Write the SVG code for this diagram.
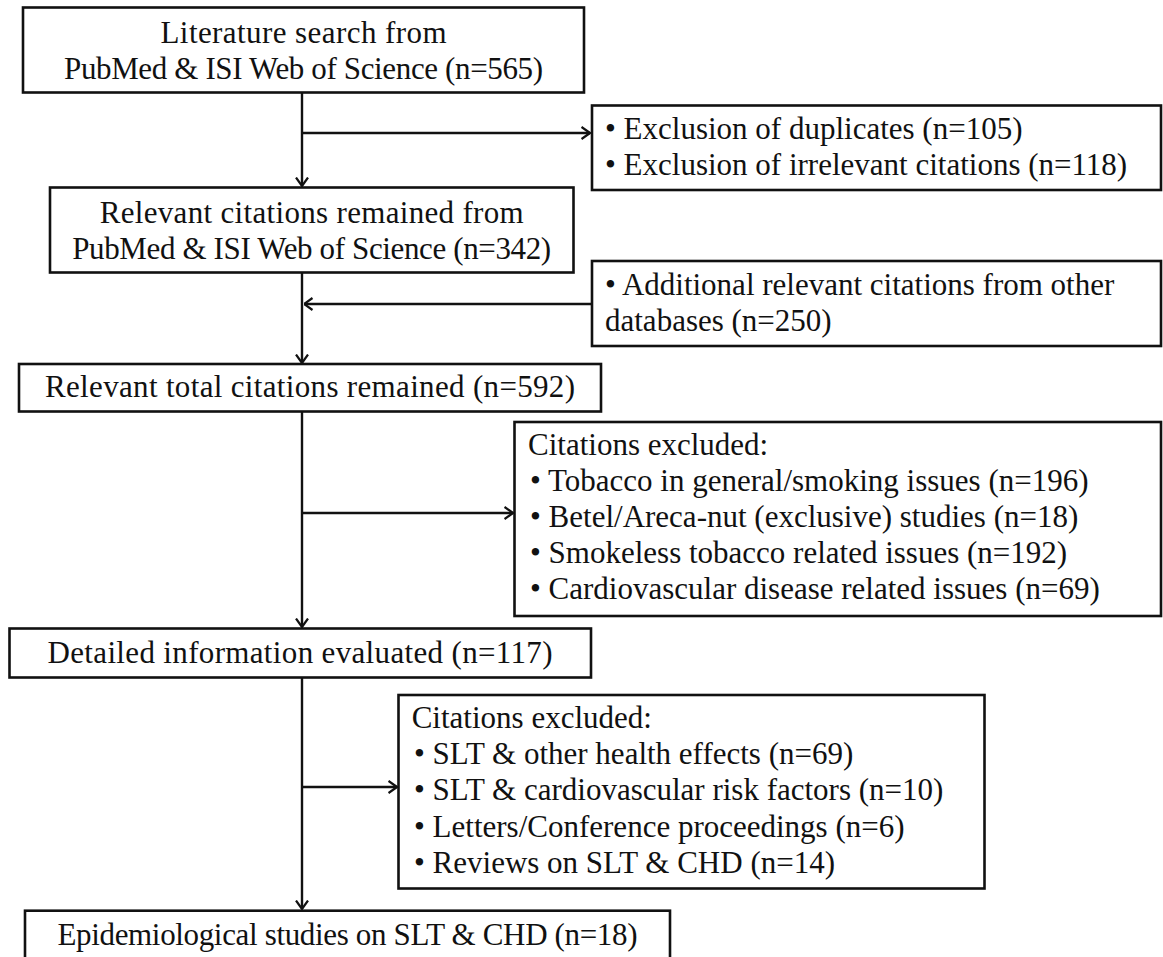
<svg xmlns="http://www.w3.org/2000/svg" width="1163" height="957" viewBox="0 0 1163 957">
<style>
.box{fill:#fff;stroke:#111;stroke-width:2.6}
.t{font-family:"Liberation Serif","Times New Roman",serif;font-size:31px;fill:#111}
.c{text-anchor:middle}
.ln{fill:none;stroke:#111;stroke-width:2.4}
</style>
<defs>
<marker id="arr" viewBox="0 0 10 14" refX="9.5" refY="7" markerWidth="10" markerHeight="14" markerUnits="userSpaceOnUse" orient="auto">
<path d="M1,1 L9.5,7 L1,13" fill="none" stroke="#111" stroke-width="2.2"/>
</marker>
</defs>
<rect width="1163" height="957" fill="#fff"/>
<g id="connectors">
<line class="ln" x1="302" y1="93" x2="302" y2="186" marker-end="url(#arr)"/>
<line class="ln" x1="302" y1="133" x2="590" y2="133" marker-end="url(#arr)"/>
<line class="ln" x1="302" y1="273" x2="302" y2="363" marker-end="url(#arr)"/>
<line class="ln" x1="592" y1="304" x2="304" y2="304" marker-end="url(#arr)"/>
<line class="ln" x1="302" y1="412" x2="302" y2="627" marker-end="url(#arr)"/>
<line class="ln" x1="302" y1="513" x2="513" y2="513" marker-end="url(#arr)"/>
<line class="ln" x1="302" y1="678" x2="302" y2="909" marker-end="url(#arr)"/>
<line class="ln" x1="302" y1="787" x2="397" y2="787" marker-end="url(#arr)"/>
</g>
<g id="n1">
<rect class="box" x="23" y="7.5" width="561" height="85"/>
<text class="t c" x="303.5" y="43" textLength="286">Literature search from</text>
<text class="t c" x="303.5" y="79" textLength="479">PubMed &amp; ISI Web of Science (n=565)</text>
</g>
<g id="n2">
<rect class="box" x="592" y="105.5" width="569" height="84.5"/>
<text class="t" x="605" y="139">• Exclusion of duplicates (n=105)</text>
<text class="t" x="605" y="175">• Exclusion of irrelevant citations (n=118)</text>
</g>
<g id="n3">
<rect class="box" x="50" y="187.5" width="523.5" height="85"/>
<text class="t c" x="311.7" y="222.7" textLength="424">Relevant citations remained from</text>
<text class="t c" x="311.7" y="259.3" textLength="479">PubMed &amp; ISI Web of Science (n=342)</text>
</g>
<g id="n4">
<rect class="box" x="592" y="261" width="569" height="85"/>
<text class="t" x="605" y="295">• Additional relevant citations from other</text>
<text class="t" x="605" y="331">databases (n=250)</text>
</g>
<g id="n5">
<rect class="box" x="19" y="364" width="582" height="47.5"/>
<text class="t c" x="310" y="397" textLength="530">Relevant total citations remained (n=592)</text>
</g>
<g id="n6">
<rect class="box" x="514.5" y="422" width="646.5" height="194"/>
<text class="t" x="528" y="455">Citations excluded:</text>
<text class="t" x="530" y="491">• Tobacco in general/smoking issues (n=196)</text>
<text class="t" x="530" y="527">• Betel/Areca-nut (exclusive) studies (n=18)</text>
<text class="t" x="530" y="563">• Smokeless tobacco related issues (n=192)</text>
<text class="t" x="530" y="599">• Cardiovascular disease related issues (n=69)</text>
</g>
<g id="n7">
<rect class="box" x="9.5" y="628.5" width="581.5" height="49"/>
<text class="t c" x="300" y="663" textLength="505">Detailed information evaluated (n=117)</text>
</g>
<g id="n8">
<rect class="box" x="398.5" y="695" width="586" height="193.5"/>
<text class="t" x="411.7" y="728">Citations excluded:</text>
<text class="t" x="414" y="764">• SLT &amp; other health effects (n=69)</text>
<text class="t" x="414" y="800">• SLT &amp; cardiovascular risk factors (n=10)</text>
<text class="t" x="414" y="837">• Letters/Conference proceedings (n=6)</text>
<text class="t" x="414" y="873">• Reviews on SLT &amp; CHD (n=14)</text>
</g>
<g id="n9">
<rect class="box" x="25" y="910.7" width="645" height="60"/>
<text class="t c" x="347.5" y="945" textLength="580">Epidemiological studies on SLT &amp; CHD (n=18)</text>
</g>
</svg>
